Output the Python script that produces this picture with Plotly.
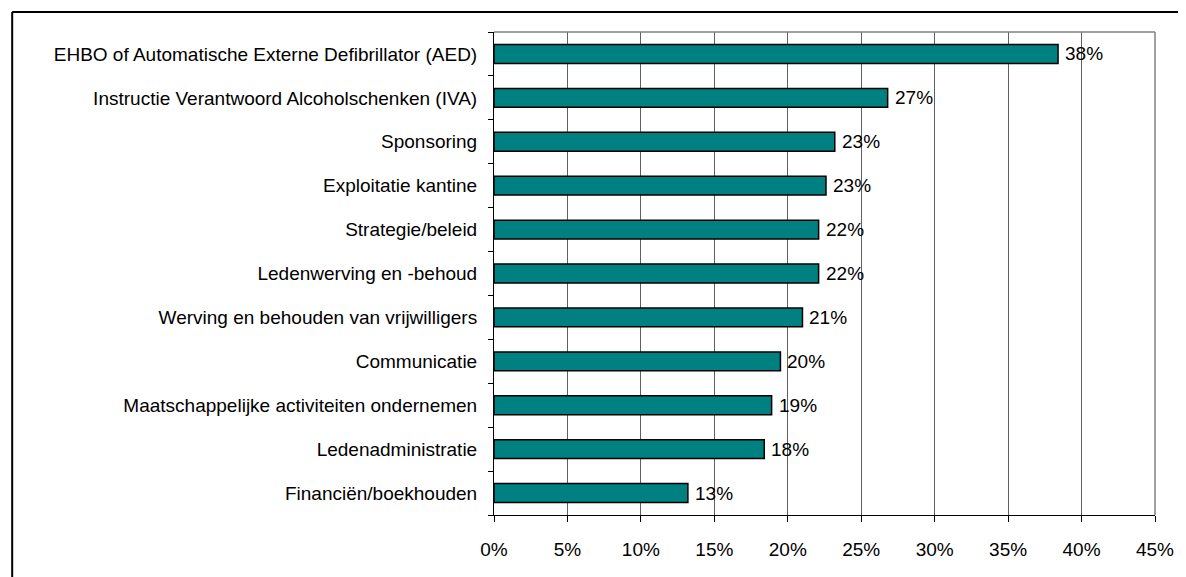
import plotly.graph_objects as go

categories = [
    "EHBO of Automatische Externe Defibrillator (AED)",
    "Instructie Verantwoord Alcoholschenken (IVA)",
    "Sponsoring",
    "Exploitatie kantine",
    "Strategie/beleid",
    "Ledenwerving en -behoud",
    "Werving en behouden van vrijwilligers",
    "Communicatie",
    "Maatschappelijke activiteiten ondernemen",
    "Ledenadministratie",
    "Financiën/boekhouden",
]
values = [38.4, 26.8, 23.2, 22.6, 22.1, 22.1, 21.0, 19.5, 18.9, 18.4, 13.2]
tick_vals = [0, 5, 10, 15, 20, 25, 30, 35, 40, 45]
tick_text = ["0%", "5%", "10%", "15%", "20%", "25%", "30%", "35%", "40%", "45%"]

# page body has an 8px margin, so the figure is drawn 8px right/down of the window origin
OFF = 8
W, H = 1186 - OFF, 577 - OFF
L, R, T, B = 494 - OFF, 28, 32 - OFF, 62
pw, ph = W - L - R, H - T - B

def px_x(p):
    return (p - OFF - L) / pw

def px_y(p):
    return (H - B - (p - OFF)) / ph

FONT = "Liberation Sans, Arial, sans-serif"
FS = 19

fig = go.Figure(
    go.Bar(
        y=categories,
        x=values,
        orientation="h",
        marker=dict(color="#008080", line=dict(color="#000000", width=1.5)),
        hoverinfo="skip",
    )
)

annotations = [
    dict(x=v, y=c, xref="x", yref="y", text=f"{v:.0f}%", showarrow=False,
         xanchor="left", yanchor="middle", xshift=5,
         font=dict(family=FONT, size=FS, color="#000000"))
    for c, v in zip(categories, values)
]

fig.update_layout(
    width=W,
    height=H,
    margin=dict(l=L, r=R, t=T, b=B, pad=0),
    paper_bgcolor="#ffffff",
    plot_bgcolor="#ffffff",
    bargap=0.57,
    showlegend=False,
    font=dict(family=FONT, size=FS, color="#000000"),
    annotations=annotations,
    xaxis=dict(
        range=[0, 45],
        tickvals=tick_vals,
        ticktext=tick_text,
        showgrid=True,
        gridcolor="#606060",
        gridwidth=1,
        zeroline=False,
        showline=True,
        linecolor="#000000",
        linewidth=1,
        ticks="outside",
        ticklen=6,
        tickcolor="#000000",
        ticklabelstandoff=11,
        tickfont=dict(family=FONT, size=FS, color="#000000"),
        fixedrange=True,
    ),
    yaxis=dict(
        categoryorder="array",
        categoryarray=categories[::-1],
        showgrid=False,
        zeroline=False,
        showline=True,
        linecolor="#000000",
        linewidth=1,
        ticks="outside",
        tickson="boundaries",
        ticklen=5,
        tickcolor="#000000",
        ticklabelstandoff=12,
        tickfont=dict(family=FONT, size=FS, color="#000000"),
        fixedrange=True,
    ),
    shapes=[
        dict(type="line", xref="paper", yref="paper", x0=0, x1=1, y0=1, y1=1,
             line=dict(color="#808080", width=1.5)),
        dict(type="line", xref="paper", yref="paper", x0=1, x1=1, y0=0, y1=1,
             line=dict(color="#808080", width=1.5)),
        dict(type="line", xref="paper", yref="paper", x0=px_x(10), x1=px_x(1200),
             y0=px_y(12), y1=px_y(12), line=dict(color="#000000", width=2)),
        dict(type="line", xref="paper", yref="paper", x0=px_x(10), x1=px_x(10),
             y0=px_y(12), y1=px_y(600), line=dict(color="#000000", width=2)),
    ],
)

fig.write_html("out.html")
